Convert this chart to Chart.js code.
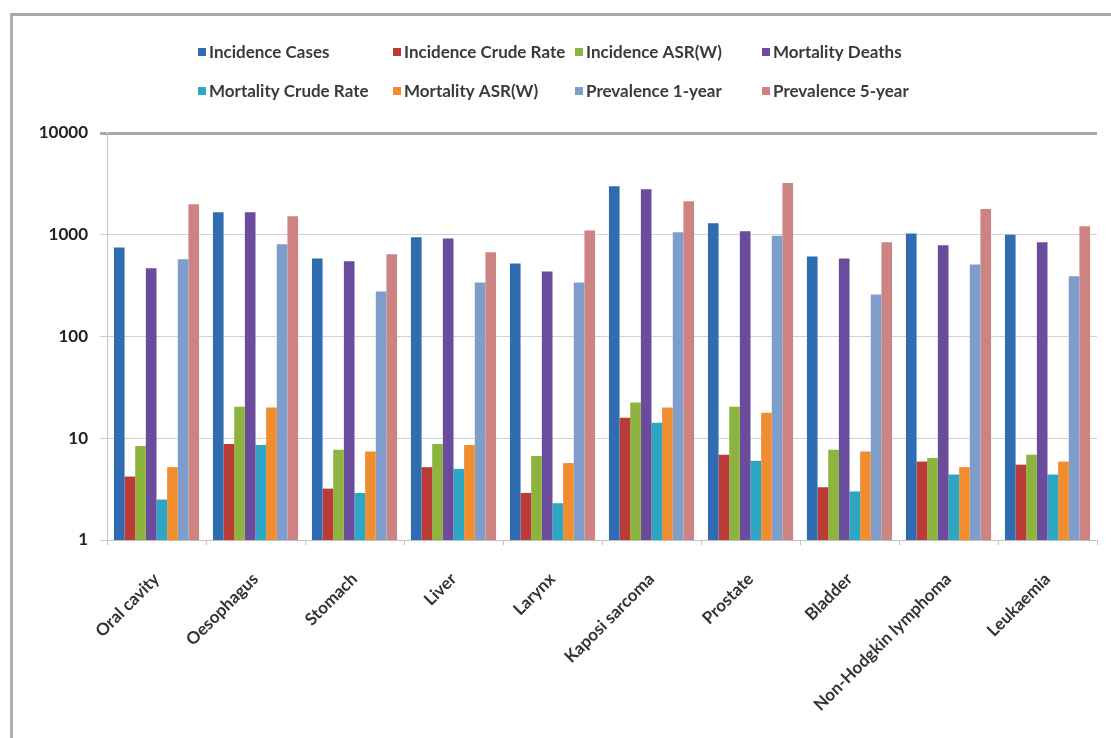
<!DOCTYPE html>
<html>
<head>
<meta charset="utf-8">
<title>Cancer incidence, mortality and prevalence by site</title>
<script src="https://cdn.jsdelivr.net/npm/chart.js@4.4.1/dist/chart.umd.min.js"></script>
<style>
    html, body {
        margin: 0;
        padding: 0;
        background: #ffffff;
    }
    #frame {
        position: absolute;
        left: 10px;
        top: 13px;
        right: 0;
        bottom: 0;
        border-top: 3px solid #a8a8a8;
        border-left: 3px solid #b0b0b0;
    }
    #siteChart {
        position: absolute;
        left: 0;
        top: 0;
    }
</style>
</head>
<body>
<div id="frame"></div>
<canvas id="siteChart" width="1111" height="738"></canvas>

<script>
// Cancer sites along the x axis
const cancerSites = [
    'Oral cavity', 'Oesophagus', 'Stomach', 'Liver', 'Larynx',
    'Kaposi sarcoma', 'Prostate', 'Bladder', 'Non-Hodgkin lymphoma', 'Leukaemia'
];

// Series values, one entry per site
const incidenceCases     = [750, 1660, 585, 945, 523, 3000, 1300, 613, 1030, 1000];
const incidenceCrudeRate = [4.2, 8.8, 3.2, 5.2, 2.9, 15.9, 6.9, 3.3, 5.9, 5.5];
const incidenceASR       = [8.4, 20.4, 7.7, 8.8, 6.7, 22.4, 20.4, 7.7, 6.4, 6.9];
const mortalityDeaths    = [468, 1660, 550, 920, 436, 2800, 1080, 585, 790, 843];
const mortalityCrudeRate = [2.5, 8.6, 2.9, 5.0, 2.3, 14.2, 6.0, 3.0, 4.4, 4.4];
const mortalityASR       = [5.2, 20, 7.4, 8.6, 5.7, 20, 17.8, 7.4, 5.2, 5.9];
const prevalence1Year    = [575, 806, 277, 340, 340, 1060, 980, 259, 510, 390];
const prevalence5Year    = [1995, 1520, 645, 672, 1100, 2140, 3220, 843, 1790, 1210];

// Log axis tick values
const yTickValues = [1, 10, 100, 1000, 10000];

const seriesNames = [
    'Incidence Cases', 'Incidence Crude Rate', 'Incidence ASR(W)', 'Mortality Deaths',
    'Mortality Crude Rate', 'Mortality ASR(W)', 'Prevalence 1-year', 'Prevalence 5-year'
];
const seriesValues = [
    incidenceCases, incidenceCrudeRate, incidenceASR, mortalityDeaths,
    mortalityCrudeRate, mortalityASR, prevalence1Year, prevalence5Year
];

// Office-style palette
const colors = [
    '#2f6cb2', // blue
    '#bb3b36', // red
    '#8cb43f', // green
    '#6b4c9c', // purple
    '#2da6c3', // teal
    '#f08d2e', // orange
    '#7f9dca', // light blue
    '#cc8381', // rose
];

const FONT = 'Lato, "Open Sans", sans-serif';

/**
 * Legend drawn in a fixed 4 x 2 grid, like the spreadsheet legend
 */
const gridLegend = {
    id: 'gridLegend',
    afterDraw(chart, args, opts) {
        const ctx = chart.ctx;
        ctx.save();
        ctx.font = `bold ${opts.fontSize}px ${FONT}`;
        ctx.textBaseline = 'middle';
        ctx.textAlign = 'left';
        chart.data.datasets.forEach((ds, i) => {
            const x = opts.columns[i % opts.columns.length];
            const y = opts.rows[Math.floor(i / opts.columns.length)];
            ctx.fillStyle = ds.backgroundColor;
            ctx.fillRect(x, y - opts.box / 2, opts.box, opts.box);
            ctx.fillStyle = '#3a3a3a';
            ctx.fillText(ds.label, x + opts.box + 3, y + 1);
        });
        ctx.restore();
    }
};

function renderSiteChart() {
    const canvas = document.getElementById('siteChart');
    const ctx = canvas.getContext('2d');

    const datasets = seriesNames.map((name, i) => ({
        label: name,
        data: seriesValues[i],
        backgroundColor: colors[i],
        borderWidth: 0,
        categoryPercentage: 0.86,
        barPercentage: 1.0
    }));

    return new Chart(ctx, {
        type: 'bar',
        data: {
            labels: cancerSites,
            datasets: datasets
        },
        plugins: [gridLegend],
        options: {
            responsive: false,
            animation: false,
            layout: {
                padding: { top: 133, right: 14, bottom: 0, left: 0 }
            },
            plugins: {
                legend: { display: false },
                tooltip: { enabled: false },
                gridLegend: {
                    columns: [198, 393, 575, 762],
                    rows: [52, 91],
                    box: 8,
                    fontSize: 17
                }
            },
            scales: {
                x: {
                    offset: true,
                    grid: {
                        offset: true,
                        drawOnChartArea: false,
                        tickLength: 5,
                        color: '#c4c4c4'
                    },
                    border: { color: '#c4c4c4' },
                    ticks: {
                        autoSkip: false,
                        maxRotation: 45,
                        minRotation: 45,
                        padding: 24,
                        color: '#333333',
                        font: { family: FONT, size: 17, weight: 'bold' }
                    },
                    afterFit(scale) {
                        scale.height = 198;
                    }
                },
                y: {
                    type: 'logarithmic',
                    min: 1,
                    max: 10000,
                    afterBuildTicks(scale) {
                        scale.ticks = yTickValues.map(v => ({ value: v }));
                    },
                    afterFit(scale) {
                        scale.width = 107;
                    },
                    grid: {
                        tickLength: 7,
                        color: ctx => ctx.tick && ctx.tick.value === 10000 ? '#a8a8a8' : '#d2d2d2',
                        lineWidth: ctx => ctx.tick && ctx.tick.value === 10000 ? 3 : 1
                    },
                    border: { color: '#c4c4c4' },
                    ticks: {
                        padding: 12,
                        color: '#222222',
                        font: { family: FONT, size: 17, weight: 'bold' },
                        callback: value => String(value)
                    }
                }
            }
        }
    });
}

renderSiteChart();
</script>
</body>
</html>
